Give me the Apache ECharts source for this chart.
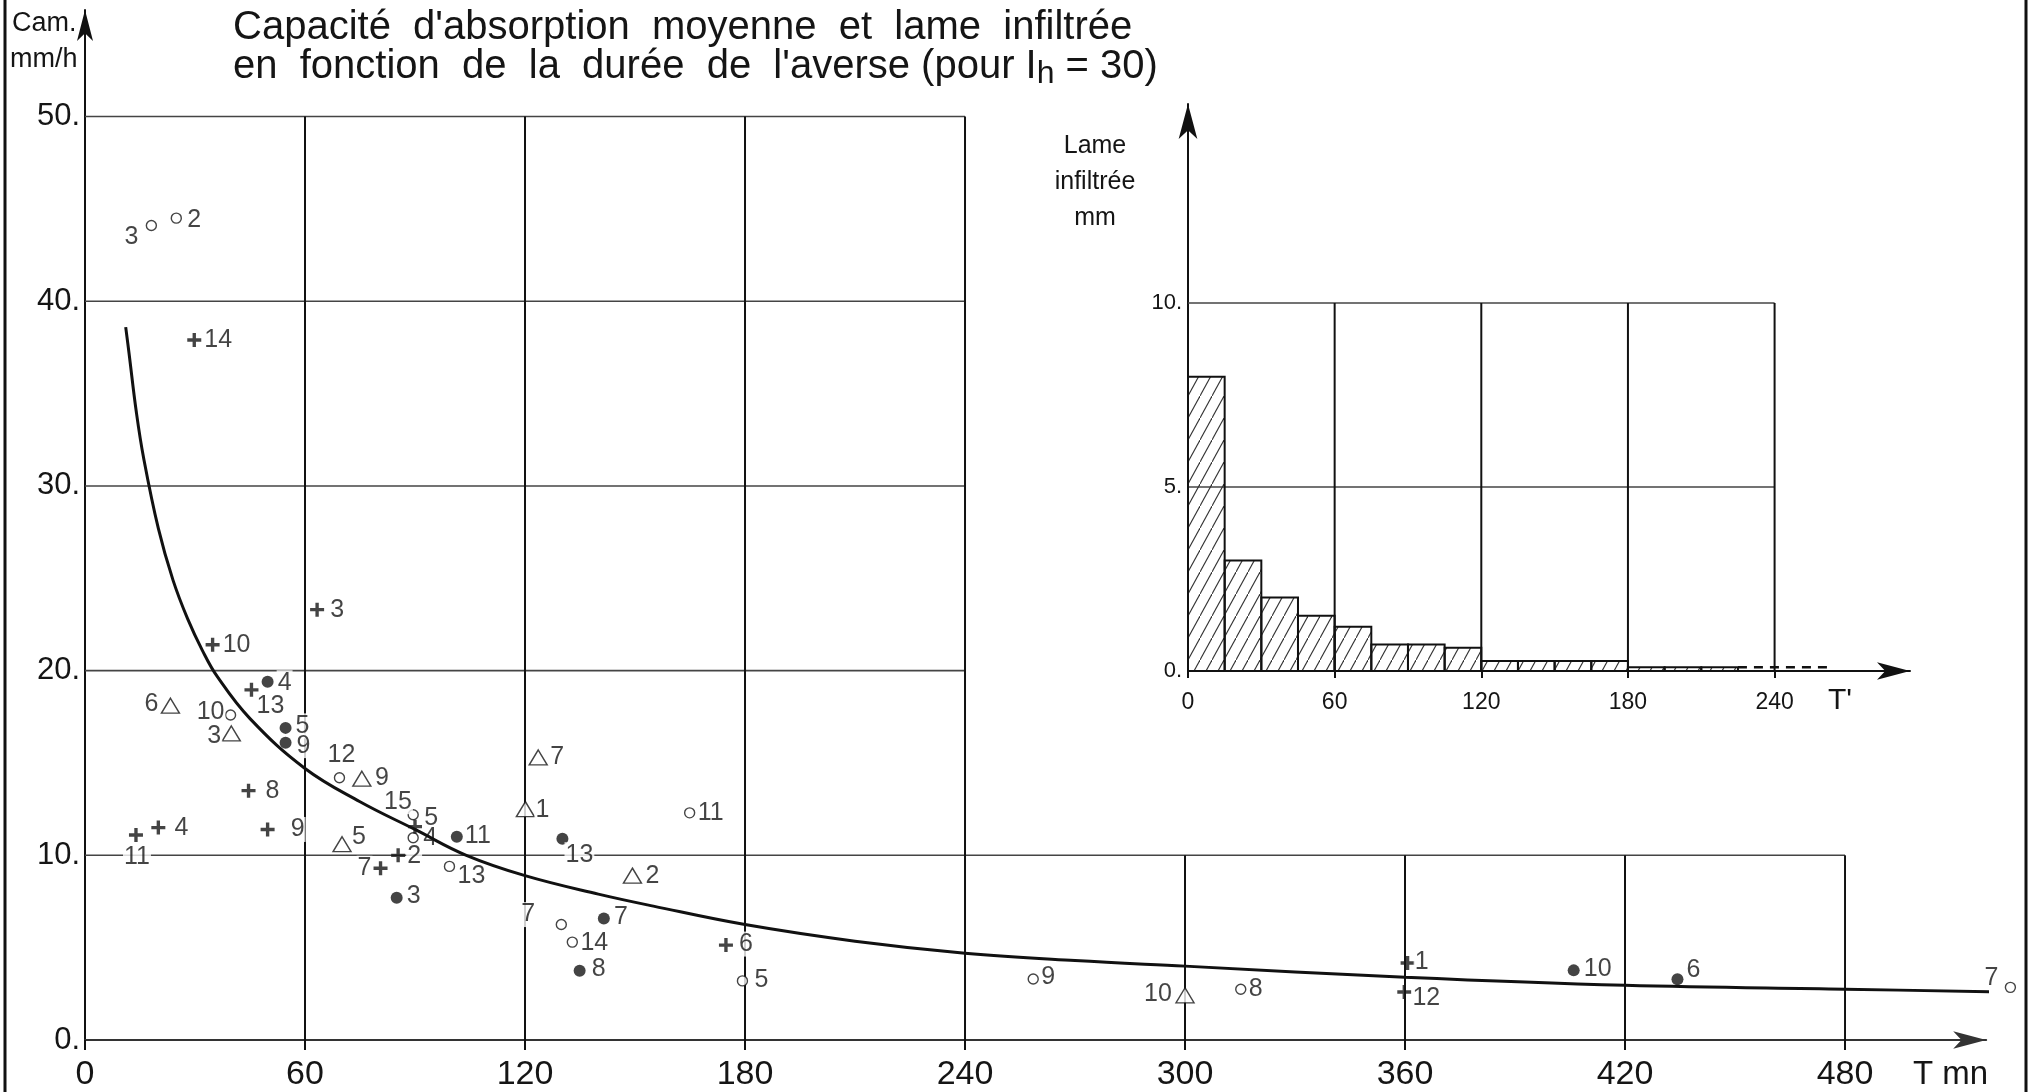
<!DOCTYPE html>
<html><head><meta charset="utf-8">
<script src="https://cdn.jsdelivr.net/npm/echarts@6/dist/echarts.min.js"></script>
<style>html,body{margin:0;padding:0;background:#fff}#c{width:2031px;height:1092px}</style>
</head><body><div id="c"></div>
<script>
// ---------- DATA ----------
const xTicks = [0, 60, 120, 180, 240, 300, 360, 420, 480];
const yTicks = [0, 10, 20, 30, 40, 50];
const insetXTicks = [0, 60, 120, 180, 240];
const insetYTicks = [0, 5, 10];

// fitted curve [T mn, Cam mm/h]
const curvePoints = [[11.1,38.6],[12,37.2],[14,34.0],[16,31.5],[20,27.7],[24,24.9],[28,22.8],[32,21.1],[36,19.7],[45,17.4],[60,14.7],[75,12.9],[90,11.4],[104,10.0],[120,8.9],[140,7.9],[155,7.25],[180,6.25],[210,5.35],[240,4.7],[270,4.3],[300,4.0],[360,3.4],[420,2.96],[480,2.75],[525,2.6]];

// [T, Cam, label]
const openCircles = [[18.1,44.1,'3'],[24.9,44.5,'2'],[39.7,17.6,'10'],[69.4,14.2,'12'],[89.5,12.2,'5'],[89.5,10.95,'4'],[99.4,9.4,'13'],[129.9,6.25,'7'],[132.9,5.3,'14'],[164.9,12.3,'11'],[179.3,3.2,'5'],[258.6,3.3,'9'],[315.2,2.75,'8'],[525.1,2.85,'7']];
const filledDots = [[49.8,19.4,'4'],[54.7,16.9,'5'],[54.7,16.1,'9'],[101.4,11.0,'11'],[130.2,10.9,'13'],[85,7.7,'3'],[141.5,6.58,'7'],[134.9,3.75,'8'],[406,3.77,'10'],[434.3,3.29,'6']];
const crosses = [[29.8,37.9,'14'],[63.3,23.3,'3'],[34.8,21.4,'10'],[45.4,18.96,'13'],[44.6,13.5,'8'],[49.8,11.4,'9'],[20,11.5,'4'],[13.9,11.1,'11'],[85.4,10.0,'2'],[80.6,9.3,'7'],[90,11.55,'15'],[174.8,5.14,'6'],[360.7,4.17,'1'],[359.8,2.6,'12']];
const triangles = [[23.3,18.1,'6'],[39.9,16.6,'3'],[75.5,14.15,'9'],[70.1,10.6,'5'],[123.6,15.3,'7'],[120.1,12.5,'1'],[149.3,8.9,'2'],[300,2.42,'10']];

// inset histogram: bin edges (T') and infiltrated depth (mm)
const insetEdges = [0,15,30,45,60,75,90,105,120,135,150,165,180,195,210,225];
const insetValues = [8.0,3.0,2.0,1.5,1.2,0.72,0.72,0.63,0.27,0.27,0.27,0.27,0.1,0.1,0.1];
const insetTail = [[225,0.1],[262,0.1]];

// ---------- STYLE (label offsets, px) ----------
const openCircleLabelOff = [[-20,12],[18,2],[-20,-3],[2,-23],[18,3],[17,0],[22,10],[-33,-10],[22,1],[21,0],[19,-1],[15,-2],[15,0],[-19,-9]];
const filledDotLabelOff = [[17,1],[17,-2],[18,3],[21,-1],[17,16],[17,-2],[17,-1],[19,-2],[24,-1],[16,-9]];
const crossLabelOff = [[24,0],[20,0],[24,0],[19,16],[24,0],[30,0],[23,0],[1,22],[16,1],[-16,0],[-17,-25],[20,-1],[14,-1],[22,6]];
const triangleLabelOff = [[-19,-2],[-17,3],[20,-1],[17,-7],[19,0],[17,1],[20,0],[-27,-1]];

const FONT = '"Liberation Sans", Arial, sans-serif';
const INK = '#151515';

const chart = echarts.init(document.getElementById('c'));

// hatch pattern
const pc = document.createElement('canvas');
pc.width = 12; pc.height = 22;
const pctx = pc.getContext('2d');
pctx.strokeStyle = '#333'; pctx.lineWidth = 1.1;
pctx.beginPath(); pctx.moveTo(-1, 23.8); pctx.lineTo(13, -1.8); pctx.stroke();
const hatch = { image: pc, repeat: 'repeat' };

function pts(arr, offs) {
  return arr.map((d, i) => ({ value: [d[0], d[1]], name: d[2], label: { offset: offs[i] } }));
}
const labelBase = {
  show: true, position: 'inside', formatter: '{b}', color: INK, fontSize: 25,
  fontFamily: FONT, textBorderWidth: 0, backgroundColor: '#fff', padding: [0, 1]
};

// grid segments derived from tick arrays
const mainGridSegs = [];
yTicks.filter(v => v > 0).forEach(v => mainGridSegs.push([0, v, v <= 10 ? 480 : 240, v, 0]));
xTicks.filter(v => v > 0).forEach(v => mainGridSegs.push([v, 0, v, v <= 240 ? 50 : 10, 1]));
const insetGridSegs = [];
insetYTicks.filter(v => v > 0).forEach(v => insetGridSegs.push([0, v, 240, v, 0]));
insetXTicks.filter(v => v > 0).forEach(v => insetGridSegs.push([v, 0, v, 10, 1]));

function segRender(params, api) {
  const a = api.coord([api.value(0), api.value(1)]);
  const b = api.coord([api.value(2), api.value(3)]);
  const vert = api.value(4) === 1;
  return { type: 'line', shape: { x1: a[0], y1: a[1], x2: b[0], y2: b[1] },
    style: { stroke: vert ? '#111' : '#444', lineWidth: vert ? 2 : 1.6 } };
}

const option = {
  animation: false,
  backgroundColor: '#fff',
  grid: [
    { left: 85, top: 10, width: 1901.2, height: 1030 },
    { left: 1188, top: 104, width: 722, height: 567 }
  ],
  xAxis: [
    { gridIndex: 0, type: 'value', min: 0, max: 518.5, splitLine: { show: false },
      axisLine: { show: true, onZero: false, symbol: ['none', 'arrow'], symbolSize: [13, 33], lineStyle: { color: '#333', width: 2 } },
      axisTick: { show: true, customValues: xTicks, length: 10, lineStyle: { color: '#111', width: 2 } },
      axisLabel: { customValues: xTicks, fontSize: 34, margin: 18, color: INK, fontFamily: FONT } },
    { gridIndex: 1, type: 'value', min: 0, max: 295.4, splitLine: { show: false },
      axisLine: { show: true, onZero: false, symbol: ['none', 'arrow'], symbolSize: [13, 33], lineStyle: { color: '#111', width: 2 } },
      axisTick: { show: true, customValues: insetXTicks, length: 7, lineStyle: { color: '#111', width: 2 } },
      axisLabel: { customValues: insetXTicks, fontSize: 23, margin: 20, color: INK, fontFamily: FONT } }
  ],
  yAxis: [
    { gridIndex: 0, type: 'value', min: 0, max: 55.77, splitLine: { show: false },
      axisLine: { show: true, onZero: false, symbol: ['none', 'arrow'], symbolSize: [12, 31], lineStyle: { color: '#111', width: 2 } },
      axisTick: { show: false },
      axisLabel: { customValues: yTicks, fontSize: 31, margin: 5, color: INK, fontFamily: FONT, formatter: v => v + '.' } },
    { gridIndex: 1, type: 'value', min: 0, max: 15.41, splitLine: { show: false },
      axisLine: { show: true, onZero: false, symbol: ['none', 'arrow'], symbolSize: [14, 35], lineStyle: { color: '#111', width: 2 } },
      axisTick: { show: false },
      axisLabel: { customValues: insetYTicks, fontSize: 22, margin: 6, color: INK, fontFamily: FONT, padding: [0, 0, 14, 0], formatter: v => v + '.' } }
  ],
  series: [
    { type: 'custom', xAxisIndex: 0, yAxisIndex: 0, renderItem: segRender, data: mainGridSegs, clip: false, silent: true, z: 1 },
    { type: 'custom', xAxisIndex: 1, yAxisIndex: 1, renderItem: segRender, data: insetGridSegs, clip: false, silent: true, z: 1 },
    { type: 'custom', xAxisIndex: 1, yAxisIndex: 1, clip: false, silent: true, z: 2,
      data: insetValues.map((v, i) => [insetEdges[i], insetEdges[i + 1], v]),
      renderItem: function (params, api) {
        const p0 = api.coord([api.value(0), api.value(2)]);
        const p1 = api.coord([api.value(1), 0]);
        return { type: 'rect', shape: { x: p0[0], y: p0[1], width: p1[0] - p0[0], height: p1[1] - p0[1] },
          style: { fill: hatch, stroke: '#111', lineWidth: 2 } };
      } },
    { type: 'line', xAxisIndex: 1, yAxisIndex: 1, data: insetTail, symbol: 'none', silent: true, z: 2,
      lineStyle: { color: '#111', width: 2.5, type: [9, 7] } },
    { type: 'scatter', xAxisIndex: 0, yAxisIndex: 0, symbol: 'circle', symbolSize: 10, silent: true, z: 3, clip: false,
      itemStyle: { color: '#fff', borderColor: INK, borderWidth: 1.4 }, label: labelBase, data: pts(openCircles, openCircleLabelOff) },
    { type: 'scatter', xAxisIndex: 0, yAxisIndex: 0, symbol: 'circle', symbolSize: 12, silent: true, z: 3, clip: false,
      itemStyle: { color: INK }, label: labelBase, data: pts(filledDots, filledDotLabelOff) },
    { type: 'scatter', xAxisIndex: 0, yAxisIndex: 0, symbol: 'path://M3.8,0H6.2V3.8H10V6.2H6.2V10H3.8V6.2H0V3.8H3.8Z', symbolSize: 14, silent: true, z: 3, clip: false,
      itemStyle: { color: INK }, label: labelBase, data: pts(crosses, crossLabelOff) },
    { type: 'scatter', xAxisIndex: 0, yAxisIndex: 0, symbol: 'triangle', symbolSize: [18, 15], silent: true, z: 3, clip: false,
      itemStyle: { color: '#fff', borderColor: INK, borderWidth: 1.4 }, label: labelBase, data: pts(triangles, triangleLabelOff) },
    { type: 'line', xAxisIndex: 0, yAxisIndex: 0, data: curvePoints, smooth: 0.4, symbol: 'none', silent: true, clip: false, z: 5,
      lineStyle: { color: '#111', width: 3 } }
  ],
  graphic: [
    { type: 'text', left: 233, top: 8, silent: true,
      style: { text: "Capacité  d'absorption  moyenne  et  lame  infiltrée\nen  fonction  de  la  durée  de  l'averse (pour I{s|h} = 30)",
        font: '40px ' + FONT, fill: INK, lineHeight: 39,
        rich: { s: { fontSize: 32, fontFamily: FONT, fill: INK, padding: [14, 0, 0, 0] } } } },
    { type: 'text', left: 12, top: 10, silent: true, style: { text: 'Cam.', font: '27px ' + FONT, fill: INK } },
    { type: 'text', left: 10, top: 46, silent: true, style: { text: 'mm/h', font: '27px ' + FONT, fill: INK } },
    { type: 'text', left: 1913, top: 1058, silent: true, style: { text: 'T mn', font: '33px ' + FONT, fill: INK } },
    { type: 'text', left: 1828, top: 686, silent: true, style: { text: "T'", font: '30px ' + FONT, fill: INK } },
    { type: 'text', x: 1095, y: 128, silent: true, style: { text: 'Lame\ninfiltrée\nmm', font: '25px ' + FONT, fill: INK, align: 'center', lineHeight: 36 } },
    { type: 'line', silent: true, shape: { x1: 5, y1: 0, x2: 5, y2: 1092 }, style: { stroke: '#111', lineWidth: 3 } },
    { type: 'line', silent: true, shape: { x1: 2026, y1: 0, x2: 2026, y2: 1092 }, style: { stroke: '#111', lineWidth: 3 } }
  ]
};
chart.setOption(option);
</script></body></html>
